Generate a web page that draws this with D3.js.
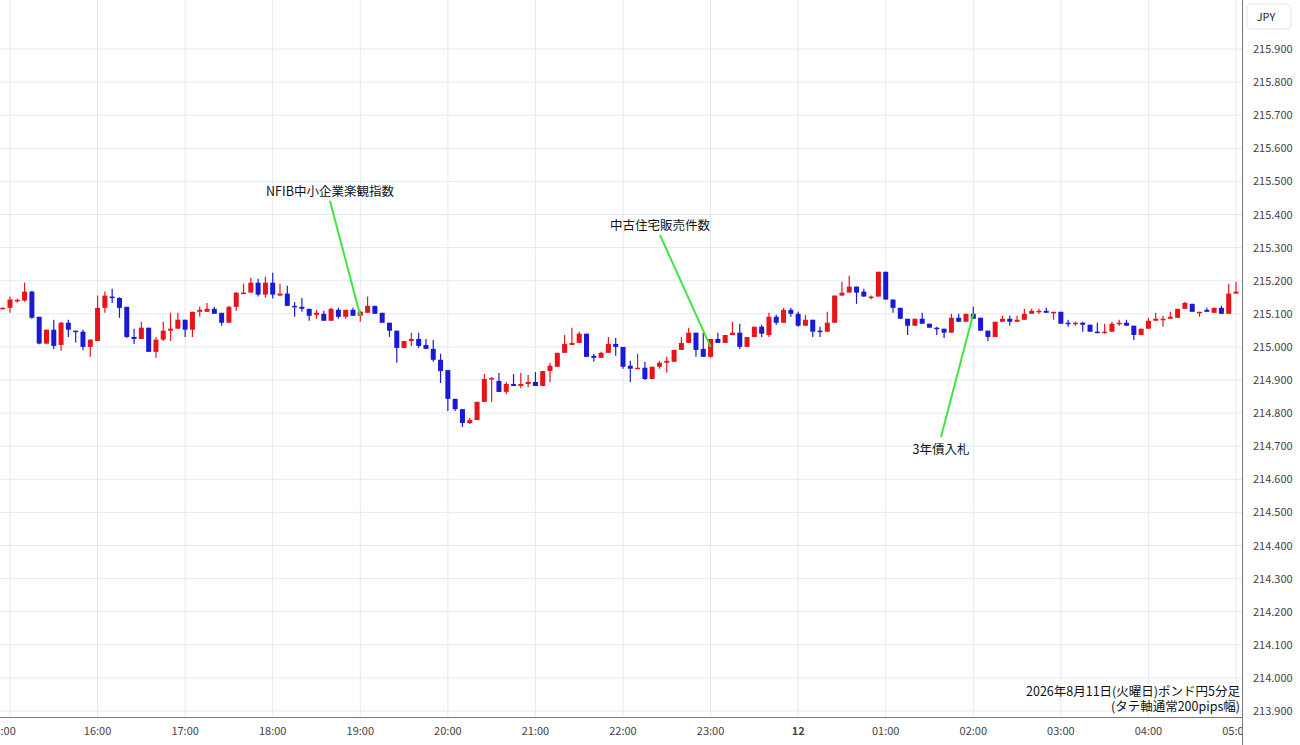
<!DOCTYPE html>
<html>
<head>
<meta charset="utf-8">
<script src="https://cdn.jsdelivr.net/npm/d3@7"></script>
<style>
  body { margin: 0; background: #fff; }
  text { font-family: "Noto Sans CJK JP", "Noto Sans", sans-serif; }
</style>
</head>
<body>
<div id="chart"></div>
<script>
// candles: [open, high, low, close], 5 minute bars from 14:55
var candles = [
  [215.118,215.120,215.115,215.118],[215.118,215.152,215.103,215.143],[215.140,215.146,215.134,215.142],[215.140,215.194,215.137,215.167],
  [215.167,215.170,215.085,215.088],[215.091,215.091,215.008,215.010],[215.010,215.052,215.008,215.052],[215.052,215.082,214.994,215.003],
  [215.006,215.076,214.988,215.073],[215.073,215.082,215.030,215.052],[215.049,215.049,215.013,215.046],[215.046,215.052,214.990,215.000],
  [215.000,215.022,214.970,215.022],[215.018,215.155,215.018,215.118],[215.118,215.167,215.103,215.155],[215.152,215.176,215.133,215.148],
  [215.148,215.150,215.088,215.118],[215.121,215.121,215.027,215.030],[215.030,215.055,215.009,215.024],[215.024,215.076,215.024,215.058],
  [215.058,215.058,214.985,214.985],[214.985,215.030,214.967,215.022],[215.022,215.076,215.018,215.049],[215.049,215.103,215.018,215.055],
  [215.055,215.103,215.055,215.082],[215.082,215.082,215.030,215.052],[215.052,215.106,215.030,215.106],[215.106,215.121,215.091,215.112],
  [215.106,215.133,215.106,215.115],[215.115,215.121,215.100,215.100],[215.103,215.103,215.064,215.073],[215.073,215.124,215.073,215.121],
  [215.121,215.164,215.109,215.164],[215.161,215.191,215.161,215.164],[215.164,215.209,215.164,215.194],[215.194,215.206,215.152,215.158],
  [215.158,215.212,215.149,215.194],[215.194,215.224,215.146,215.158],[215.155,215.191,215.155,215.161],[215.161,215.185,215.124,215.124],
  [215.124,215.136,215.091,215.121],[215.121,215.148,215.106,215.115],[215.115,215.115,215.079,215.094],[215.097,215.112,215.085,215.103],
  [215.100,215.109,215.079,215.079],[215.079,215.118,215.079,215.115],[215.112,215.118,215.085,215.091],[215.091,215.112,215.085,215.112],
  [215.112,215.118,215.094,215.094],[215.094,215.109,215.076,215.106],[215.103,215.152,215.103,215.124],[215.124,215.124,215.100,215.100],
  [215.103,215.103,215.073,215.073],[215.073,215.073,215.030,215.049],[215.049,215.049,214.952,214.997],[214.997,215.018,214.997,215.018],
  [215.018,215.043,215.003,215.024],[215.024,215.043,214.997,215.003],[215.006,215.024,214.994,214.994],[214.994,215.021,214.955,214.961],
  [214.961,214.979,214.891,214.927],[214.930,214.930,214.806,214.843],[214.843,214.843,214.806,214.812],[214.812,214.812,214.758,214.770],
  [214.770,214.785,214.767,214.779],[214.779,214.834,214.779,214.834],[214.834,214.918,214.834,214.903],[214.903,214.909,214.834,214.906],
  [214.897,214.921,214.864,214.864],[214.864,214.894,214.858,214.888],[214.888,214.918,214.882,214.882],[214.882,214.921,214.876,214.888],
  [214.888,214.915,214.879,214.894],[214.894,214.924,214.882,214.882],[214.882,214.927,214.882,214.927],[214.927,214.952,214.894,214.943],
  [214.940,214.982,214.940,214.982],[214.982,215.036,214.982,215.009],[215.006,215.058,215.006,215.012],[215.012,215.046,215.012,215.040],
  [215.040,215.040,214.970,214.970],[214.973,214.979,214.955,214.967],[214.967,214.985,214.967,214.982],[214.982,215.030,214.982,215.009],
  [215.009,215.027,214.973,215.000],[215.000,215.000,214.934,214.940],[214.943,214.958,214.894,214.934],[214.934,214.979,214.934,214.937],
  [214.937,214.955,214.900,214.903],[214.903,214.940,214.903,214.940],[214.940,214.958,214.934,214.952],[214.952,214.970,214.922,214.958],
  [214.955,214.991,214.955,214.991],[214.991,215.030,214.991,215.012],[215.012,215.058,215.012,215.043],[215.043,215.043,214.970,214.991],
  [214.994,215.043,214.970,214.970],[214.970,215.024,214.967,215.024],[215.024,215.043,215.012,215.012],[215.012,215.036,215.012,215.036],
  [215.036,215.076,215.036,215.043],[215.043,215.070,214.994,215.000],[215.000,215.030,215.000,215.030],[215.030,215.061,215.030,215.061],
  [215.061,215.067,215.030,215.040],[215.036,215.103,215.030,215.091],[215.091,215.097,215.067,215.073],[215.073,215.118,215.073,215.112],
  [215.112,215.118,215.091,215.100],[215.100,215.106,215.061,215.064],[215.064,215.097,215.064,215.082],[215.082,215.082,215.030,215.046],
  [215.049,215.061,215.030,215.046],[215.046,215.106,215.046,215.073],[215.073,215.155,215.073,215.155],[215.155,215.197,215.155,215.164],
  [215.164,215.215,215.164,215.182],[215.182,215.182,215.130,215.164],[215.167,215.176,215.152,215.152],[215.149,215.155,215.143,215.152],
  [215.152,215.227,215.152,215.227],[215.227,215.227,215.143,215.143],[215.143,215.143,215.103,215.118],[215.118,215.118,215.085,215.085],
  [215.085,215.085,215.036,215.064],[215.064,215.085,215.064,215.085],[215.085,215.103,215.070,215.070],[215.070,215.070,215.058,215.058],
  [215.058,215.061,215.036,215.055],[215.055,215.055,215.027,215.043],[215.043,215.100,215.043,215.088],[215.088,215.100,215.076,215.076],
  [215.076,215.100,215.076,215.100],[215.100,215.121,215.085,215.085],[215.088,215.088,215.049,215.049],[215.049,215.049,215.018,215.030],
  [215.030,215.076,215.030,215.076],[215.076,215.094,215.076,215.085],[215.085,215.094,215.064,215.076],[215.076,215.094,215.076,215.082],
  [215.082,215.115,215.082,215.100],[215.100,215.115,215.100,215.109],[215.106,215.115,215.100,215.109],[215.109,215.118,215.103,215.103],
  [215.103,215.106,215.082,215.106],[215.106,215.106,215.070,215.070],[215.073,215.082,215.061,215.070],[215.070,215.076,215.064,215.073],
  [215.073,215.076,215.046,215.067],[215.067,215.067,215.046,215.046],[215.046,215.073,215.043,215.043],[215.043,215.070,215.040,215.046],
  [215.046,215.076,215.046,215.070],[215.070,215.082,215.064,215.073],[215.073,215.082,215.064,215.064],[215.064,215.064,215.021,215.036],
  [215.036,215.055,215.036,215.055],[215.055,215.088,215.055,215.079],[215.079,215.103,215.079,215.085],[215.082,215.094,215.061,215.085],
  [215.085,215.106,215.085,215.091],[215.088,215.115,215.088,215.115],[215.115,215.136,215.115,215.133],[215.130,215.130,215.106,215.106],
  [215.103,215.106,215.091,215.106],[215.112,215.118,215.106,215.106],[215.103,215.118,215.103,215.118],[215.118,215.124,215.100,215.100],
  [215.100,215.191,215.100,215.161],[215.161,215.197,215.161,215.167]
];
var startTime = new Date(2026, 7, 11, 14, 55);
var hourLabels = ["15:00","16:00","17:00","18:00","19:00","20:00","21:00","22:00","23:00","12","01:00","02:00","03:00","04:00","05:00"];
var priceTicks = [213.9,214.0,214.1,214.2,214.3,214.4,214.5,214.6,214.7,214.8,214.9,215.0,215.1,215.2,215.3,215.4,215.5,215.6,215.7,215.8,215.9];
var captionLines = ["2026年8月11日(火曜日)ポンド円5分足", "(タテ軸通常200pips幅)"];
var events = [
  {label: "NFIB中小企業楽観指数", bar: 49, price: 215.094, tx: 330, ty: 192},
  {label: "中古住宅販売件数", bar: 97, price: 215.000, tx: 660, ty: 226},
  {label: "3年債入札", bar: 133, price: 215.100, tx: 941, ty: 450}
];

var W = 1300, H = 745, plotR = 1242, plotB = 717;

var svg = d3.select("#chart").append("svg").attr("width", W).attr("height", H);

var x = d3.scaleTime()
  .domain([new Date(2026, 7, 11, 15, 0), new Date(2026, 7, 12, 5, 0)])
  .range([10, 1236]);
var y = d3.scaleLinear().domain([213.9, 215.9]).range([711, 49]);

function barTime(i) { return d3.timeMinute.offset(startTime, 5 * i); }

var plot = svg.append("g");
plot.append("defs").append("clipPath").attr("id", "clip")
  .append("rect").attr("width", plotR).attr("height", plotB);

// grid
var hours = d3.timeHour.range(x.domain()[0], d3.timeMinute.offset(x.domain()[1], 1));
plot.selectAll(".vg").data(hours).enter().append("line")
  .attr("x1", d => x(d)).attr("x2", d => x(d)).attr("y1", 0).attr("y2", plotB)
  .attr("stroke", "#e3ebf2");
plot.selectAll(".hg").data(priceTicks).enter().append("line")
  .attr("x1", 0).attr("x2", plotR).attr("y1", d => y(d)).attr("y2", d => y(d))
  .attr("stroke", "#e3ebf2");

// candles
var cw = 5;
var cg = plot.append("g").attr("clip-path", "url(#clip)");
var bars = cg.selectAll(".c").data(candles).enter().append("g");
bars.append("line")
  .attr("x1", (d, i) => x(barTime(i))).attr("x2", (d, i) => x(barTime(i)))
  .attr("y1", d => y(d[1])).attr("y2", d => y(d[2]))
  .attr("stroke", d => d[3] >= d[0] ? "#e8141c" : "#1a1ad6").attr("stroke-width", 1.2);
bars.append("rect")
  .attr("x", (d, i) => x(barTime(i)) - cw / 2).attr("width", cw)
  .attr("y", d => y(Math.max(d[0], d[3])))
  .attr("height", d => Math.max(1.5, Math.abs(y(d[0]) - y(d[3]))))
  .attr("fill", d => d[3] >= d[0] ? "#e8141c" : "#1a1ad6");

// event annotations
events.forEach(function (e) {
  var above = e.ty < y(e.price);
  plot.append("line")
    .attr("x1", e.tx).attr("y1", above ? e.ty + 9 : e.ty - 13)
    .attr("x2", x(barTime(e.bar))).attr("y2", y(e.price))
    .attr("stroke", "#3ee63e").attr("stroke-width", 2);
  plot.append("text").attr("x", e.tx).attr("y", e.ty + 4)
    .attr("text-anchor", "middle").attr("font-size", 12.5).attr("fill", "#111")
    .text(e.label);
});

// caption
svg.selectAll(".cap").data(captionLines).enter().append("text")
  .attr("x", 1240).attr("y", (d, i) => 696 + i * 15).attr("text-anchor", "end")
  .attr("font-size", 12.5).attr("fill", "#111").text(d => d);

// borders
svg.append("line").attr("x1", 0).attr("x2", plotR).attr("y1", plotB + 0.5).attr("y2", plotB + 0.5)
  .attr("stroke", "#777");
svg.append("line").attr("x1", plotR + 0.5).attr("x2", plotR + 0.5).attr("y1", 0).attr("y2", H)
  .attr("stroke", "#777");

// right axis
svg.selectAll(".pt").data(priceTicks).enter().append("text")
  .attr("x", 1253).attr("y", d => y(d) + 4).attr("font-size", 11).attr("fill", "#444")
  .text(d => d3.format(".3f")(d));
svg.append("rect").attr("x", 1247).attr("y", 4).attr("width", 44).attr("height", 25).attr("rx", 4)
  .attr("fill", "#fff").attr("stroke", "#e6e6e6");
svg.append("text").attr("x", 1266).attr("y", 21).attr("text-anchor", "middle")
  .attr("font-size", 11).attr("fill", "#222").text("JPY");

// bottom axis (first label runs off the left edge, as in the source)
var xa = svg.append("g").attr("clip-path", "url(#xclip)");
svg.append("clipPath").attr("id", "xclip").append("rect").attr("width", plotR).attr("height", H);
xa.selectAll(".hl").data(hours).enter().append("text")
  .attr("x", (d, i) => i === 0 ? 2 : x(d)).attr("y", 735).attr("text-anchor", "middle")
  .attr("font-size", 11).attr("fill", "#444")
  .attr("font-weight", (d, i) => hourLabels[i] === "12" ? "bold" : null)
  .text((d, i) => hourLabels[i]);
</script>
</body>
</html>
